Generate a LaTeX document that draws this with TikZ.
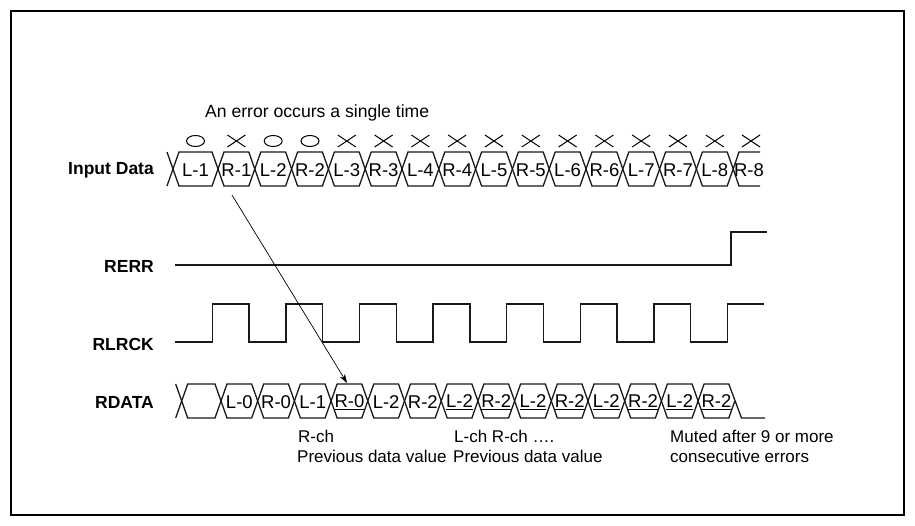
\documentclass[tikz,border=0pt]{standalone}
\usepackage{fontspec}
\setmainfont{Liberation Sans}
\usetikzlibrary{arrows.meta}
\begin{document}
\begin{tikzpicture}[x=1pt,y=-1pt,
  lbl/.style={font=\fontsize{17.5}{20}\selectfont\bfseries, anchor=east, inner sep=0pt},
  txt/.style={font=\fontsize{17}{20}\selectfont, anchor=west, inner sep=0pt},
  cell/.style={font=\fontsize{18.5}{20}\selectfont, inner sep=0pt},
  wave/.style={line width=1.3pt, line join=miter, black!90},
  marker/.style={line width=1pt},
  frame/.style={line width=2pt},
  pointer/.style={line width=0.7pt, -{Stealth[length=9pt,width=6pt]}}]
\useasboundingbox (0,0) rectangle (915,526);
\draw[frame] (11,11) rectangle (904,515);

% ---------- Input Data ----------
\node[lbl] (inlbl) at (154,170) {Input Data};
\node[txt, font=\fontsize{17.6}{20}\selectfont] (errtxt) at (205,113) {An error occurs a single time};
% leading X half and L-1
\draw[wave] (167,152) -- (173,169) -- (167,186);
\draw[wave] (173,169) -- (179,152) -- (212,152) -- (218,169) -- (212,186) -- (179,186) -- cycle;
\node[cell] (inL1) at (195.5,170) {L-1};
\draw[marker] (195.5,141) ellipse [x radius=9, y radius=5.5];
\foreach \lab/\m [count=\i from 0, evaluate=\i as \a using 218+36.8*\i, evaluate=\i as \b using 254.8+36.8*\i] in
  {R-1/x,L-2/o,R-2/o,L-3/x,R-3/x,L-4/x,R-4/x,L-5/x,R-5/x,L-6/x,R-6/x,L-7/x,R-7/x,L-8/x}{
  \draw[wave] (\a,169) -- (\a+6,152) -- (\b-6,152) -- (\b,169) -- (\b-6,186) -- (\a+6,186) -- cycle;
  \node[cell] (in\i) at ({(\a+\b)/2},170) {\lab};
  \if\m o
    \draw[marker] ({(\a+\b)/2},141) ellipse [x radius=9, y radius=5.5];
  \else
    \draw[marker] ({(\a+\b)/2-9},135) -- ({(\a+\b)/2+9},147) ({(\a+\b)/2-9},147) -- ({(\a+\b)/2+9},135);
  \fi
}
% R-8 open cell
\draw[wave] (760,152) -- (739,152) -- (733.2,169) -- (739,186) -- (760,186);
\node[cell] (inR8) at (749,170) {R-8};
\draw[marker] (742,135) -- (760,147) (742,147) -- (760,135);

% ---------- RERR ----------
\node[lbl] (rerrlbl) at (154,266) {RERR};
\draw[wave] (175,265) -- (731,265) -- (731,232) -- (767,232);

% ---------- RLRCK ----------
\node[lbl] (rlrcklbl) at (154,344) {RLRCK};
\draw[wave] (175,342) -| (212.3,304) -| (249.1,342) -| (285.9,304) -| (322.7,342) -| (359.5,304)
  -| (396.3,342) -| (433.1,304) -| (469.9,342) -| (506.7,304) -| (543.5,342) -| (580.3,304)
  -| (617.1,342) -| (653.9,304) -| (690.7,342) -| (727.5,304) -- (764,304);

% ---------- RDATA ----------
\node[lbl] (rdatalbl) at (154,402) {RDATA};
\draw[wave] (175.7,384) -- (181.7,401) -- (175.7,418);
\draw[wave] (181.7,401) -- (187.7,384) -- (215,384) -- (221,401) -- (215,418) -- (187.7,418) -- cycle;
\foreach \lab/\u [count=\i from 0, evaluate=\i as \a using 221+36.7*\i, evaluate=\i as \b using 257.7+36.7*\i] in
  {L-0/0,R-0/0,L-1/0,R-0/1,L-2/0,R-2/0,L-2/1,R-2/1,L-2/1,R-2/1,L-2/1,R-2/1,L-2/1}{
  \draw[wave] (\a,401) -- (\a+6,384) -- (\b-6,384) -- (\b,401) -- (\b-6,418) -- (\a+6,418) -- cycle;
  \node[cell] (rd\i) at ({(\a+\b)/2},402) {\ifnum\u=1 \underline{\lab}\else\lab\fi};
}
% last R-2 then mute
\draw[wave] (698.1,401) -- (704.1,384) -- (728.8,384) -- (741.5,418) -- (765,418);
\draw[wave] (698.1,401) -- (704.1,418) -- (728.8,418) -- (734.8,401);
\node[cell] (rdlast) at (716.4,402) {\underline{R-2}};

% ---------- annotations ----------
\node[txt] (rch) at (298,436) {R-ch};
\node[txt] (prev1) at (297,456) {Previous data value};
\node[txt] (lrch) at (454,436) {L-ch R-ch ….};
\node[txt] (prev2) at (453,456) {Previous data value};
\node[txt] (mute1) at (670,436) {Muted after 9 or more};
\node[txt] (mute2) at (670,456) {consecutive errors};

% ---------- arrow ----------
\coordinate (arrS) at (232,195);
\coordinate (arrE) at (347,383);
\draw[pointer] (arrS) -- (arrE);
\end{tikzpicture}
\end{document}
